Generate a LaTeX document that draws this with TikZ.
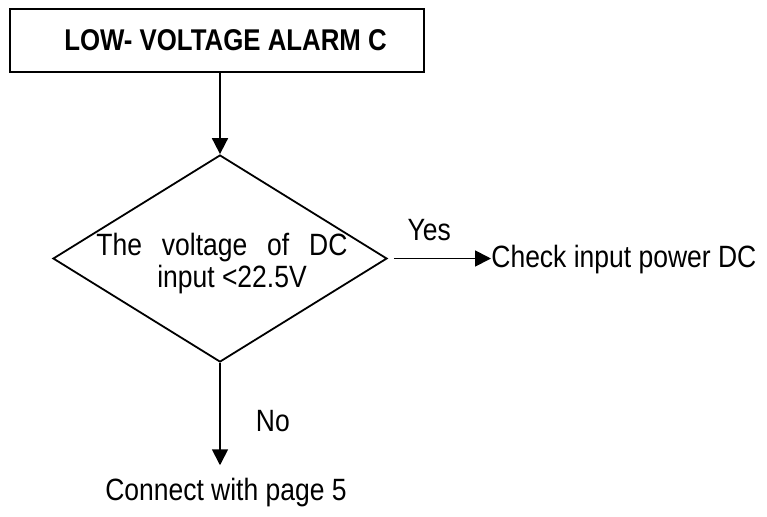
\documentclass[tikz,border=0pt]{standalone}
\usepackage{fontspec}
\setmainfont{Liberation Sans}[FakeStretch=0.86]
\usepackage{tikz}
\usetikzlibrary{arrows.meta,positioning,shapes.geometric}
\definecolor{ink}{HTML}{000000}
\tikzset{
  titlenode/.style={
    draw=ink,
    line width=1.2pt,
    minimum width=207pt,
    minimum height=31.5pt,
    inner sep=0pt,
    font=\fontsize{15}{18}\selectfont\bfseries
  },
  decisionnode/.style={
    draw=ink,
    diamond,
    line width=0.9pt,
    minimum width=167pt,
    minimum height=103.5pt,
    inner sep=0pt
  },
  labelnode/.style={
    inner sep=0pt,
    font=\fontsize{15.4}{16}\selectfont
  },
  flowarrow/.style={-{Triangle[length=8pt,width=8pt]},line width=0.9pt,draw=ink}
}

\begin{document}
\begin{tikzpicture}[x=0.5pt,y=-0.5pt]
  \useasboundingbox (0,0) rectangle (767,516);
  \node[titlenode] (alarm) at (217,40.5) {\hspace*{8.5pt}LOW- VOLTAGE ALARM C};
  \node[decisionnode] (check) at (220,258.5) {};
  \node[labelnode, align=center] (question) at (222,264) {\makebox[125.5pt][s]{The voltage of DC}\\\hspace*{10pt}input <22.5V};
  \node[labelnode, anchor=west] (power) at (491,260) {Check input power DC};
  \node[labelnode] (connect) at (226,493) {Connect with page 5};
  \draw[flowarrow] (check.north |- alarm.south) -- (check.north);
  \draw[flowarrow, shorten <=3pt] (check.east) -- node[labelnode, above=8.5pt, pos=0.4] (yes) {Yes} (check.east -| power.west);
  \draw[flowarrow, shorten >=6.5pt] (check.south) -- node[labelnode, right=17.5pt] (no) {No} (check.south |- connect.north);
\end{tikzpicture}
\end{document}
